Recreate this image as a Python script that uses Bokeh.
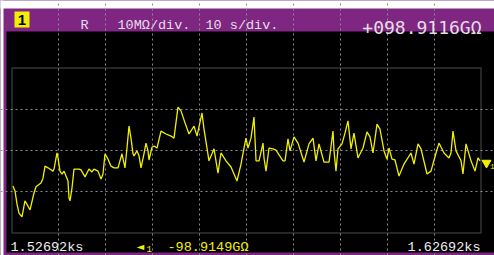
from bokeh.plotting import figure
from bokeh.models import Range1d, Grid, FixedTicker, BoxAnnotation, Label
from bokeh.embed import file_html
from bokeh.resources import INLINE

# ---- data ----
t_offset_s = [0.21, 0.64, 1.07, 1.49, 2.13, 2.77, 3.41, 3.84, 4.69, 5.12, 6.18, 6.61, 7.04, 7.68, 8.74,
              8.96, 9.59, 9.81, 10.23, 10.66, 11.09, 11.51, 11.94, 12.15, 12.37, 12.79, 13.22, 14.29,
              14.71, 15.57, 16.42, 17.06, 17.48, 18.34, 18.98, 19.40, 19.83, 20.47, 21.11, 21.75, 22.60,
              23.45, 24.09, 24.52, 24.95, 25.37, 25.80, 26.01, 26.65, 27.08, 27.51, 28.14, 28.57, 29.00,
              29.21, 29.85, 30.28, 30.92, 31.77, 32.84, 33.90, 34.54, 35.39, 36.03, 36.89, 37.74, 38.81,
              39.45, 40.51, 40.94, 41.58, 42.00, 42.64, 43.07, 43.92, 44.56, 45.63, 46.70, 47.33, 47.97,
              48.83, 49.47, 49.89, 50.32, 50.96, 51.60, 52.03, 52.67, 53.52, 53.73, 54.16, 54.80, 55.65,
              56.29, 57.78, 58.21, 58.85, 59.28, 60.13, 60.98, 62.26, 63.33, 64.18, 64.82, 65.46, 66.52,
              67.59, 68.44, 68.66, 69.08, 69.51, 70.36, 71.00, 71.64, 72.28, 72.92, 73.77, 74.84, 75.69,
              76.33, 76.97, 77.83, 78.46, 79.32, 79.96, 80.38, 81.02, 81.66, 82.52, 83.58, 85.07, 85.71,
              86.57, 87.21, 88.49, 89.34, 90.41, 91.04, 92.11, 93.18, 93.60, 94.03, 94.67, 95.74, 96.16,
              96.80, 97.87, 98.72, 99.36, 99.79]
r_dev_mohm = [-8.6, -9.8, -13.0, -15.2, -16.1, -12.2, -13.5, -14.4, -10.3, -8.8, -7.9, -6.7, -3.8, -4.2, -5.0,
              -4.5, -0.6, -1.8, -5.0, -5.7, -5.0, -6.2, -7.4, -11.5, -12.2, -9.1, -4.5, -4.5,
              -4.7, -6.4, -4.5, -5.2, -4.5, -5.0, -6.9, -5.7, -0.8, -2.1, -3.8, -4.2, -4.2,
              -0.8, -4.2, 0.6, 5.9, 3.0, -0.8, -1.3, -0.1, -1.3, -4.2, -0.8, 1.8, -0.1,
              -2.3, 0.8, 1.1, 0.6, 4.7, 4.0, 3.5, 3.0, 10.5, 9.6, 6.7, 4.0, 5.9,
              3.5, 9.1, 5.2, 0.6, -2.5, -0.8, 0.4, -5.5, -0.6, -2.5, -4.0, -5.7, -7.4,
              -3.3, 0.6, 3.0, 0.6, 3.0, 8.1, -2.5, -2.5, 1.8, -1.8, -5.0, 0.6, 0.4,
              0.1, -2.5, -2.5, 2.8, -0.1, 3.3, 1.8, -2.8, 1.6, 3.0, -2.5, 1.6, -2.8,
              -2.8, 4.7, -0.1, -5.0, 0.4, 1.6, 4.2, 7.2, 0.4, 4.2, -1.8, 0.6, 4.5,
              3.3, -0.6, 6.4, 5.2, -0.1, -2.1, 0.6, -2.1, -2.3, -6.2, -3.3, -0.6, -3.3,
              1.6, 0.4, -5.7, -5.0, -0.6, 1.8, -0.6, -1.8, -0.6, 4.7, -0.1, -2.5, -5.7,
              1.6, -2.5, -5.0, -1.8, -2.5]

x_grid_ticks = [10, 20, 30, 40, 50, 60, 70, 80, 90]
y_grid_ticks = [-10, 0, 10]
t_span = (0, 100)
r_span = (-20, 20)
ref_level = -3.0

header_channel = "1"
header_mode = "R"
header_vdiv = "10MΩ/div."
header_tdiv = "10 s/div."
header_value = "+098.9116GΩ"
footer_start = "1.52692ks"
footer_end = "1.62692ks"
footer_offset = "-98.9149GΩ"

# ---- geometry (figure drawn at the page origin) ----
W, H = 494, 255
SX = 469 / 100.0   # px per second
SY = 165 / 40.0    # px per MOhm
x0 = -11.5 / SX
y_top = 20 + 67.5 / SY


def X(px):
    return (px - 11.5) / SX


def Y(py):
    return 20 - (py - 67.5) / SY


p = figure(width=W, height=H, output_backend="svg", toolbar_location=None,
           x_range=Range1d(x0, x0 + W / SX), y_range=Range1d(y_top - H / SY, y_top),
           x_axis_location=None, y_axis_location=None, min_border=0)
p.background_fill_color = "black"
p.border_fill_color = "black"
p.outline_line_color = None
p.xgrid.visible = False
p.ygrid.visible = False

PURPLE = "#7e2681"


def box(l, r, t, b, color):
    p.add_layout(BoxAnnotation(left=X(l), right=X(r), top=Y(t), bottom=Y(b),
                               fill_color=color, fill_alpha=1, line_color=None,
                               level="underlay"))


box(-20, 520, -20, 31, PURPLE)      # header band
box(-20, 520, 252, 300, PURPLE)     # bottom strip
box(-20, 6, -20, 300, PURPLE)       # left strip
box(-20, 520, -20, 8, "white")      # page white above
box(-20, 3, -20, 300, "white")      # page white left
box(14, 29, 11, 27, "#f2f000")      # channel badge

gx = Grid(dimension=0, ticker=FixedTicker(ticks=x_grid_ticks), bounds=r_span,
          grid_line_color="#8c8c8c", grid_line_dash="2 3", grid_line_width=1)
gy = Grid(dimension=1, ticker=FixedTicker(ticks=y_grid_ticks), bounds=t_span,
          grid_line_color="#8c8c8c", grid_line_dash="2 3", grid_line_width=1)
p.add_layout(gx)
p.add_layout(gy)

p.add_layout(BoxAnnotation(left=t_span[0], right=t_span[1], bottom=r_span[0], top=r_span[1],
                           fill_alpha=0, line_color="#a8a8a8", line_width=1.5))

p.line(t_offset_s, r_dev_mohm, line_color="#f2f000", line_width=1.3)

p.scatter([t_span[1] + 5.5 / SX], [ref_level], marker="inverted_triangle", size=9,
          fill_color="#f2f000", line_color="#f2f000")

MONO = "Liberation Mono"
TXT = "#e6dde6"

p.add_layout(Label(x=X(21.5), y=Y(19.5), text=header_channel, text_font="Liberation Sans",
                   text_font_style="bold", text_font_size="15px", text_color="black",
                   text_align="center", text_baseline="middle"))
p.add_layout(Label(x=X(80), y=Y(25), text=header_mode, text_font=MONO,
                   text_font_size="13.5px", text_color=TXT, text_baseline="alphabetic"))
p.add_layout(Label(x=X(117), y=Y(25), text=header_vdiv, text_font=MONO,
                   text_font_size="13.5px", text_color=TXT, text_baseline="alphabetic"))
p.add_layout(Label(x=X(205), y=Y(25), text=header_tdiv, text_font=MONO,
                   text_font_size="13.5px", text_color=TXT, text_baseline="alphabetic"))
p.add_layout(Label(x=X(481), y=Y(27), text=header_value, text_font="DejaVu Sans Mono",
                   text_font_size="18px", text_color=TXT, text_align="right",
                   text_baseline="alphabetic"))

p.add_layout(Label(x=X(10), y=Y(247), text=footer_start, text_font=MONO,
                   text_font_size="13.5px", text_color="#eeeeee", text_baseline="alphabetic"))
p.add_layout(Label(x=X(480), y=Y(247), text=footer_end, text_font=MONO,
                   text_font_size="13.5px", text_color="#eeeeee", text_align="right",
                   text_baseline="alphabetic"))
p.add_layout(Label(x=X(136), y=Y(246), text="◄", text_font="DejaVu Sans",
                   text_font_size="10px", text_color="#f2f000", text_baseline="alphabetic"))
p.add_layout(Label(x=X(146), y=Y(248), text="1", text_font=MONO,
                   text_font_size="9px", text_color="#f2f000", text_baseline="alphabetic"))
p.add_layout(Label(x=X(167), y=Y(247), text=footer_offset, text_font=MONO,
                   text_font_size="13.5px", text_color="#f2f000", text_baseline="alphabetic"))
p.add_layout(Label(x=X(489.5), y=Y(166), text="1", text_font=MONO,
                   text_font_size="8px", text_color="#f2f000", text_baseline="alphabetic"))

open("out.html", "w").write(file_html(p, INLINE))
